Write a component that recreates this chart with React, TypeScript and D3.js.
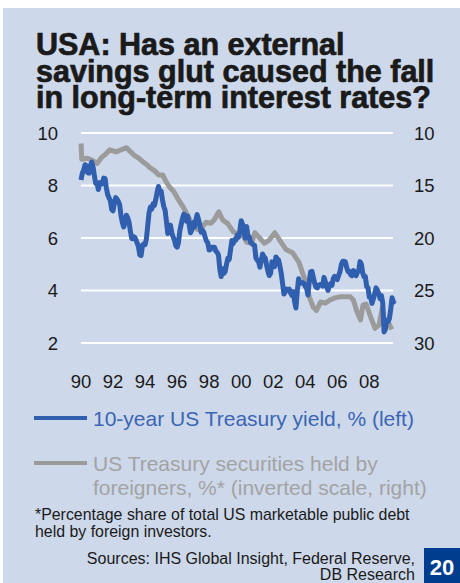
import React from "react";
import * as d3 from "d3";

// 10-year US Treasury yield, monthly, %, Jan 1990 onward (left axis)
const yieldStartYear = 1990;
const treasuryYield: number[] = [
  8.21, 8.47, 8.59, 8.79, 8.76, 8.48, 8.47, 8.75, 8.89, 8.72, 8.39, 8.08,
  8.09, 7.85, 8.11, 8.04, 8.07, 8.28, 8.27, 7.9, 7.65, 7.53, 7.42, 7.09,
  7.03, 7.34, 7.54, 7.48, 7.39, 7.26, 6.84, 6.59, 6.42, 6.59, 6.87, 6.77,
  6.6, 6.26, 5.98, 5.97, 6.04, 5.96, 5.81, 5.68, 5.36, 5.33, 5.72, 5.77,
  5.75, 5.97, 6.48, 6.97, 7.18, 7.1, 7.3, 7.24, 7.46, 7.74, 7.96, 7.81,
  7.78, 7.47, 7.2, 7.06, 6.63, 6.17, 6.28, 6.49, 6.2, 6.04, 5.93, 5.71,
  5.65, 5.81, 6.27, 6.51, 6.74, 6.91, 6.87, 6.64, 6.83, 6.53, 6.2, 6.3,
  6.58, 6.42, 6.69, 6.89, 6.71, 6.49, 6.22, 6.3, 6.21, 6.03, 5.88, 5.81,
  5.54, 5.57, 5.65, 5.64, 5.65, 5.5, 5.46, 5.34, 4.81, 4.53, 4.83, 4.65,
  4.72, 5.0, 5.23, 5.18, 5.54, 5.9, 5.79, 5.94, 5.92, 6.11, 6.03, 6.28,
  6.66, 6.52, 6.26, 5.99, 6.44, 6.1, 6.05, 5.83, 5.8, 5.74, 5.72, 5.24,
  5.16, 5.1, 4.89, 5.14, 5.39, 5.28, 5.24, 4.97, 4.73, 4.57, 4.65, 5.09,
  5.04, 4.91, 5.28, 5.21, 5.16, 4.93, 4.65, 4.26, 3.87, 3.94, 4.05, 4.03,
  4.05, 3.9, 3.81, 3.96, 3.57, 3.33, 3.98, 4.45, 4.27, 4.29, 4.3, 4.27,
  4.15, 4.08, 3.83, 4.35, 4.72, 4.73, 4.5, 4.28, 4.13, 4.1, 4.19, 4.23,
  4.22, 4.17, 4.5, 4.34, 4.14, 4.0, 4.18, 4.26, 4.2, 4.46, 4.54, 4.47,
  4.42, 4.57, 4.72, 4.99, 5.11, 5.11, 5.09, 4.88, 4.72, 4.73, 4.6, 4.56,
  4.76, 4.72, 4.56, 4.69, 4.75, 5.1, 5.0, 4.67, 4.52, 4.53, 4.15, 4.1,
  3.74, 3.74, 3.51, 3.68, 3.88, 4.1, 4.01, 3.89, 3.69, 3.81, 3.53, 2.42,
  2.52, 2.87, 2.82, 2.93, 3.29, 3.72, 3.56, 3.62,
];

// US Treasury securities held by foreigners, % (right axis, inverted)
const foreignDates: number[] = [
  1990.0, 1990.05, 1990.4, 1990.7, 1991.0, 1991.3, 1991.55, 1991.8, 1992.0, 1992.2,
  1992.5, 1992.85, 1993.1, 1993.3, 1993.6, 1993.9, 1994.1, 1994.3, 1994.6, 1994.85,
  1995.1, 1995.3, 1995.5, 1995.8, 1996.1, 1996.4, 1996.7, 1997.0, 1997.3, 1997.6,
  1997.8, 1998.1, 1998.3, 1998.6, 1998.85, 1999.15, 1999.5, 1999.8, 2000.0, 2000.35,
  2000.65, 2000.85, 2001.15, 2001.45, 2001.75, 2002.1, 2002.4, 2002.8, 2003.2, 2003.6,
  2003.8, 2004.05, 2004.25, 2004.5, 2004.7, 2004.95, 2005.25, 2005.55, 2005.85, 2006.2,
  2006.5, 2006.8, 2007.0, 2007.2, 2007.45, 2007.6, 2007.8, 2008.1, 2008.35, 2008.6,
  2008.8, 2009.0, 2009.2, 2009.4,
];
const foreignShare: number[] = [
  11.0, 12.5, 12.4, 12.6, 12.9, 12.3, 12.0, 11.6, 11.7, 11.8,
  11.6, 11.4, 11.8, 12.1, 12.4, 12.8, 13.0, 13.3, 13.6, 14.0,
  14.0, 14.6, 15.1, 15.6, 16.4, 17.1, 18.0, 18.9, 19.2, 18.9,
  18.5, 18.6, 18.3, 17.5, 18.3, 18.6, 19.4, 19.6, 19.5, 20.4,
  20.5, 19.5, 20.0, 20.5, 20.2, 19.5, 20.2, 21.1, 21.4, 22.3,
  23.2, 24.3, 25.6, 26.6, 26.9, 26.1, 26.2, 25.9, 25.7, 25.6,
  25.6, 25.6, 25.9, 26.9, 27.8, 26.4, 26.3, 27.6, 28.6, 28.3,
  26.7, 28.4, 28.1, 28.7,
];

const leftTicks = [2, 4, 6, 8, 10];
const rightTicks = [10, 15, 20, 25, 30];
const yearTicks = [1990, 1992, 1994, 1996, 1998, 2000, 2002, 2004, 2006, 2008];

const titleLines = [
  "USA: Has an external",
  "savings glut caused the fall",
  "in long-term interest rates?",
];

const BLUE = "#2f5fae";
const GRAY = "#9b9b9b";
const BG = "#cdd8ea";
const FONT = "'Liberation Sans', Arial, Helvetica, sans-serif";

export default function App() {
  const x = d3.scaleLinear().domain([1990, 2009.6]).range([81, 395]);
  const yL = d3.scaleLinear().domain([2, 10]).range([343, 133]);
  const yR = d3.scaleLinear().domain([30, 10]).range([343, 133]);

  const yieldPts: [number, number][] = treasuryYield.map((v, i) => [
    yieldStartYear + i / 12,
    v,
  ]);
  const foreignPts: [number, number][] = foreignDates.map((t, i) => [t, foreignShare[i]]);

  const yieldLine = d3
    .line<[number, number]>()
    .x((d) => x(d[0]))
    .y((d) => yL(d[1]));
  const foreignLine = d3
    .line<[number, number]>()
    .x((d) => x(d[0]))
    .y((d) => yR(d[1]));

  return (
    <svg
      width={460}
      height={583}
      style={{ position: "absolute", left: 0, top: 0 }}
      fontFamily={FONT}
    >
      <rect x={0} y={0} width={460} height={583} fill="#ffffff" />
      <rect x={3} y={8} width={457} height={575} fill={BG} />

      {titleLines.map((t, i) => (
        <text
          key={i}
          x={36}
          y={55 + i * 26.5}
          fontSize={30.5}
          fontWeight="bold"
          fill="#1a1a1a"
          stroke="#1a1a1a"
          strokeWidth={0.7}
        >
          {t}
        </text>
      ))}

      {leftTicks.map((v) => (
        <line
          key={"g" + v}
          x1={81}
          x2={393}
          y1={yL(v)}
          y2={yL(v)}
          stroke="#ffffff"
          strokeWidth={2}
        />
      ))}
      {leftTicks.map((v) => (
        <text
          key={"l" + v}
          x={58}
          y={yL(v) + 6.5}
          fontSize={18.5}
          textAnchor="end"
          fill="#1a1a1a"
        >
          {v}
        </text>
      ))}
      {rightTicks.map((v) => (
        <text
          key={"r" + v}
          x={414}
          y={yR(v) + 6.5}
          fontSize={18.5}
          textAnchor="start"
          fill="#1a1a1a"
        >
          {v}
        </text>
      ))}
      {yearTicks.map((yr) => (
        <text
          key={"x" + yr}
          x={x(yr)}
          y={388}
          fontSize={18.5}
          textAnchor="middle"
          fill="#1a1a1a"
        >
          {String(yr).slice(2)}
        </text>
      ))}

      <path
        d={foreignLine(foreignPts) || ""}
        fill="none"
        stroke={GRAY}
        strokeWidth={5}
        strokeLinejoin="round"
      />
      <path
        d={yieldLine(yieldPts) || ""}
        fill="none"
        stroke={BLUE}
        strokeWidth={5}
        strokeLinejoin="round"
      />

      <line x1={34} x2={87} y1={418} y2={418} stroke={BLUE} strokeWidth={4} />
      <text x={93} y={426} fontSize={21} fill="#3a66b3">
        10-year US Treasury yield, % (left)
      </text>
      <line x1={34} x2={87} y1={463} y2={463} stroke={GRAY} strokeWidth={4} />
      <text x={93} y={471} fontSize={21} fill="#a3a3a3">
        US Treasury securities held by
      </text>
      <text x={93} y={495} fontSize={21} fill="#a3a3a3">
        foreigners, %* (inverted scale, right)
      </text>

      <text x={35} y={520} fontSize={15.9} fill="#1a1a1a">
        *Percentage share of total US marketable public debt
      </text>
      <text x={35} y={537} fontSize={15.9} fill="#1a1a1a">
        held by foreign investors.
      </text>

      <text x={415} y={564} fontSize={16} textAnchor="end" fill="#1a1a1a">
        Sources: IHS Global Insight, Federal Reserve,
      </text>
      <text x={415} y={580} fontSize={16} textAnchor="end" fill="#1a1a1a">
        DB Research
      </text>

      <rect x={424} y={548} width={36} height={35} fill="#003d8f" />
      <text
        x={442}
        y={575}
        fontSize={22}
        fontWeight="bold"
        textAnchor="middle"
        fill="#ffffff"
      >
        20
      </text>
    </svg>
  );
}
